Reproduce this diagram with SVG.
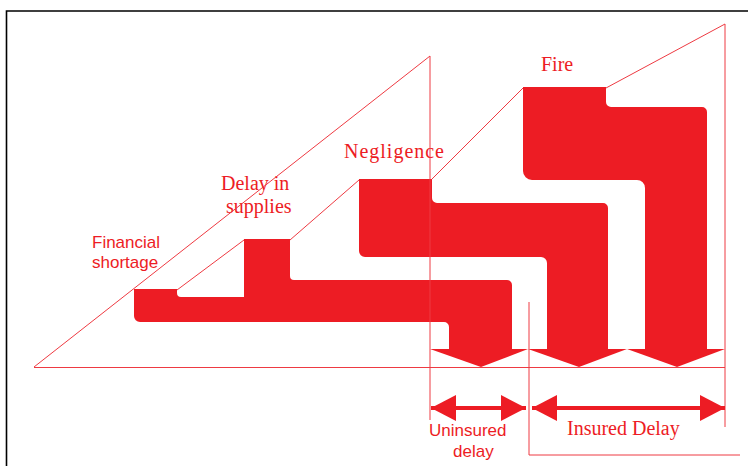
<svg xmlns="http://www.w3.org/2000/svg" width="748" height="466" viewBox="0 0 748 466">
  <defs>
    <marker id="head" markerUnits="userSpaceOnUse" markerWidth="26" markerHeight="26" refX="25" refY="13" orient="auto-start-reverse">
      <path d="M0,0 L25,13 L0,26 Z" fill="#ED1C24"/>
    </marker>
  </defs>
  <style>
    .blk { fill: #ED1C24; }
    .thin { fill: none; stroke: #EE3A42; stroke-width: 1; }
    .sans { font-family: "Liberation Sans", Arial, sans-serif; fill: #ED1C24; font-size: 17px; }
    .serif { font-family: "Liberation Serif", "Times New Roman", serif; fill: #ED1C24; font-size: 20px; }
    .dbl { stroke: #ED1C24; stroke-width: 4; fill: none; }
  </style>
  <rect width="748" height="466" fill="#ffffff"/>
  <path d="M6.5,466 V11 H748" fill="none" stroke="#000000" stroke-width="1.6"/>

  <g id="financial-delay">
    <path class="blk" d="M134,289 H177 V293 A4,4 0 0 0 181,297 H244 V239 H290 V276 A4,4 0 0 0 294,280 H507 A5,5 0 0 1 512,285 V349 H449 V327 A5,5 0 0 0 444,322 H140 A6,6 0 0 1 134,316 Z"/>
    <polygon class="blk" points="430,349 528,349 481,367"/>
    <text class="sans" x="92" y="248" font-size="17.5">Financial</text>
    <text class="sans" x="92" y="268" font-size="17.5">shortage</text>
    <text class="serif" x="221" y="190" font-size="19.5">Delay in</text>
    <text class="serif" x="226" y="213" font-size="19.5">supplies</text>
  </g>

  <g id="negligence">
    <path class="blk" d="M359,179 H432 V198 A5,5 0 0 0 437,203 H603 A5,5 0 0 1 608,208 V349 H547 V263 A6,6 0 0 0 541,257 H365 A6,6 0 0 1 359,251 Z"/>
    <polygon class="blk" points="528,349 627,349 579,367"/>
    <text class="serif" x="344" y="158" font-size="21.5" textLength="100" lengthAdjust="spacing">Negligence</text>
  </g>

  <g id="fire">
    <path class="blk" d="M523,87 H606 V102 A5,5 0 0 0 611,107 H702 A5,5 0 0 1 707,112 V349 H645 V188 A8,8 0 0 0 637,180 H532 A9,9 0 0 1 523,171 Z"/>
    <polygon class="blk" points="627,349 725,349 677,367"/>
    <text class="serif" x="541" y="71">Fire</text>
  </g>

  <g id="connectors">
    <path class="thin" d="M34,367 L430,56 V420"/>
    <path class="thin" d="M34,367.5 H725" stroke-width="1.4"/>
    <path class="thin" d="M177,290 L244,240"/>
    <path class="thin" d="M290,240 L359,180"/>
    <path class="thin" d="M432,179 L523,88"/>
    <path class="thin" d="M606,88 L725,24 V427"/>
    <path class="thin" d="M529,302 V455 H740"/>
  </g>

  <g id="uninsured">
    <line class="dbl" x1="431" y1="408" x2="526" y2="408" marker-start="url(#head)" marker-end="url(#head)"/>
    <text class="sans" x="429" y="436">Uninsured</text>
    <text class="sans" x="453" y="457">delay</text>
  </g>

  <g id="insured">
    <line class="dbl" x1="532" y1="408" x2="725" y2="408" marker-start="url(#head)" marker-end="url(#head)"/>
    <text class="serif" x="567" y="435">Insured Delay</text>
  </g>
</svg>
